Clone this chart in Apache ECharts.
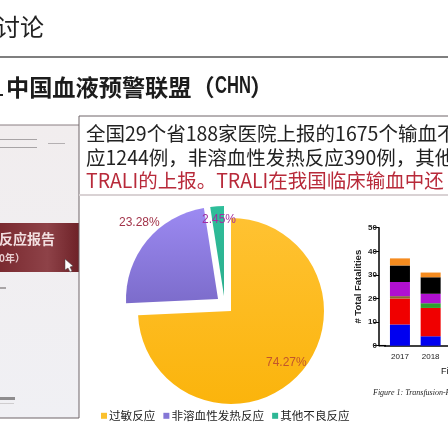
<!DOCTYPE html>
<html><head><meta charset="utf-8">
<script src="https://cdn.jsdelivr.net/npm/echarts@6/dist/echarts.min.js"></script>
<style>html,body{margin:0;padding:0;background:#fff;overflow:hidden}#c{width:448px;height:448px;filter:blur(0.45px)}</style>
</head><body><div id="c"></div>
<script>
const pieNames = ['过敏反应', '非溶血性发热反应', '其他不良反应'];
const pieValues = [74.27, 23.28, 2.45];
const years = ['2017', '2018', '2019'];
const deaths = [9, 4, null];
const redBars = [11, 12, null];
const oliveBars = [1, null, null];
const greenBars = [null, 2, null];
const purpleBars = [6, 4, null];
const blackBars = [7, 7, null];
const orangeBars = [3, 2, null];
const bodyLines = ['全国29个省188家医院上报的1675个输血不良反应', '应1244例，非溶血性发热反应390例，其他不良反应', 'TRALI的上报。TRALI在我国临床输血中还'];

const CJK = '"Noto Sans CJK SC","Noto Sans",sans-serif';
const grad = (a, b) => ({type:'linear',x:0,y:0,x2:0,y2:1,colorStops:[{offset:0,color:a},{offset:1,color:b}]});
const sliceFills = [grad('#FFC232','#FBB40C'), grad('#9C8AF2','#7C6CCB'), grad('#2FBE9A','#2BAF8E')];
const sliceSpecs = [
  {center:[231,311], r:93, lc:'#C2562C', lx:266, ly:363},
  {center:[218,299], r:92, lc:'#A2344A', lx:119, ly:223},
  {center:[224,296], r:90, lc:'#A32DA0', lx:202, ly:220}
];
const pieSeries = sliceSpecs.map((s, k) => ({
  type:'pie', center:s.center, radius:[0,s.r], startAngle:90, clockwise:true, silent:true, animation:false, z:2,
  labelLayout:{x:s.lx, y:s.ly, align:'left', verticalAlign:'middle'},
  labelLine:{show:false},
  data: pieNames.map((n, i) => ({
    name:n, value:pieValues[i],
    itemStyle: i===k ? {color:sliceFills[i], borderColor:'rgba(255,255,255,0)'} : {color:'rgba(0,0,0,0)'},
    label: i===k ? {show:true, position:'inside', formatter:'{c}%', color:s.lc, fontSize:12, fontFamily:'"Liberation Sans",sans-serif'} : {show:false}
  }))
}));
const stackDefs = [[deaths,'#0000F0'],[redBars,'#F00000'],[oliveBars,'#8A6A30'],[greenBars,'#2E9E2E'],[purpleBars,'#B010D0'],[blackBars,'#000000'],[orangeBars,'#F58B1F']];
const barSeries = stackDefs.map(([d,c]) => ({type:'bar', stack:'t', data:d, barWidth:20, itemStyle:{color:c}, silent:true, animation:false, z:3}));

const txt = (x,y,text,size,color,extra) => ({type:'text', x, y, silent:true, style:Object.assign({text, fontSize:size, fill:color, fontFamily:CJK, textVerticalAlign:'middle'}, extra||{})});
const rect = (x,y,w,h,fill,z) => ({type:'rect', silent:true, z:z||0, shape:{x,y,width:w,height:h}, style:{fill}});
const line = (x1,y1,x2,y2,stroke,w) => ({type:'line', silent:true, shape:{x1,y1,x2,y2}, style:{stroke, lineWidth:w}});

const graphics = [
  rect(0,125,79,293,grad('#F1EDEE','#F0F0F4')),
  rect(0,223,79,49,{type:'linear',x:0,y:0,x2:1,y2:0,colorStops:[{offset:0,color:'#7A2A30'},{offset:0.6,color:'#8E4248'},{offset:1,color:'#6E2228'}]}),
  txt(-1,239,'反应报告',14,'#F2DFE0',{fontWeight:'bold'}),
  txt(-1,258,'0年）',10,'#E8CFD0',{fontWeight:'bold'}),
  {type:'polygon', silent:true, shape:{points:[[65,259],[65,270],[68,268],[70,272],[72,271],[70,267],[73,266]]}, style:{fill:'#fff', stroke:'#444', lineWidth:0.5}},
  rect(0,139,37,1,'#A8A4A6'), rect(0,147,37,1,'#A8A4A6'), rect(48,143,17,1,'#B4B0B2'),
  rect(0,287,6,2,'#A8A4A6'), rect(0,397,15,3,'#8E8C8E'), rect(0,403,14,1,'#CFCDCF'),
  line(0,125,79,125,'#8A7F82',1), line(0,418,79,418,'#6E6468',1), line(79,116,79,418,'#6E6468',1),
  line(79,116,448,116,'#6E6468',1), line(79,195,448,195,'#D9D2D4',2),
  txt(-4,27,'讨论',24,'#222'),
  line(0,57,448,57,'#555',1.4),
  rect(0,94,3,2,'#222'),
  txt(6,87,'中国血液预警联盟（',23.2,'#1c1c1c',{fontWeight:'bold'}),
  Object.assign(txt(215,87,'CHN',23,'#1c1c1c',{fontWeight:'bold',fontFamily:'"Liberation Sans",sans-serif'}),{scaleX:0.72}),
  txt(250,87,'）',23.2,'#1c1c1c',{fontWeight:'bold'}),
  txt(86,134,bodyLines[0],19.5,'#222'),
  txt(86,158,bodyLines[1],19.5,'#222'),
  txt(86,181,bodyLines[2],19.5,'#B82A3A'),
  line(379,345.7,386,345.7,'#000',1.5),
  txt(441,372,'Fi',9,'#111',{fontFamily:'"Liberation Sans",sans-serif'}),
  txt(373,393,'Figure 1: Transfusion-Related',8,'#222',{fontFamily:'"Liberation Serif",serif',fontStyle:'italic'})
];

const chart = echarts.init(document.getElementById('c'), null, {renderer:'canvas', width:448, height:448});
chart.setOption({
  backgroundColor:'#fff',
  animation:false,
  grid:{left:384.6, top:227.7, width:92.1, height:118, containLabel:false, outerBoundsMode:'none'},
  xAxis:{type:'category', data:years, axisLine:{lineStyle:{color:'#000',width:1.5}}, axisTick:{alignWithLabel:true,length:3,lineStyle:{color:'#000',width:1}}, axisLabel:{color:'#222',fontSize:8,margin:7,fontFamily:'"Liberation Sans",sans-serif',interval:0}},
  yAxis:{type:'value', min:0, max:50, interval:10, offset:5.6, splitLine:{show:false},
    name:'# Total Fatalities', nameLocation:'middle', nameRotate:90, nameGap:16,
    nameTextStyle:{color:'#222',fontSize:9.5,fontWeight:'bold',fontFamily:'"Liberation Sans",sans-serif'},
    axisLine:{show:true,lineStyle:{color:'#000',width:1.5}}, axisTick:{show:true,length:5,lineStyle:{color:'#000',width:1}},
    axisLabel:{color:'#222',fontSize:8,margin:2,fontWeight:'bold',fontFamily:'"Liberation Sans",sans-serif'}},
  legend:{show:true, left:95, top:405, itemWidth:6, itemHeight:6, itemGap:8, icon:'rect', selectedMode:false,
    textStyle:{fontSize:11.6,color:'#222',fontFamily:CJK,padding:[0,0,0,-3]},
    data:pieNames.map((n,i)=>({name:n,itemStyle:{color:['#FBC02D','#8577D6','#2DB795'][i]}}))},
  series:[...pieSeries, ...barSeries],
  graphic:graphics
});
</script></body></html>
